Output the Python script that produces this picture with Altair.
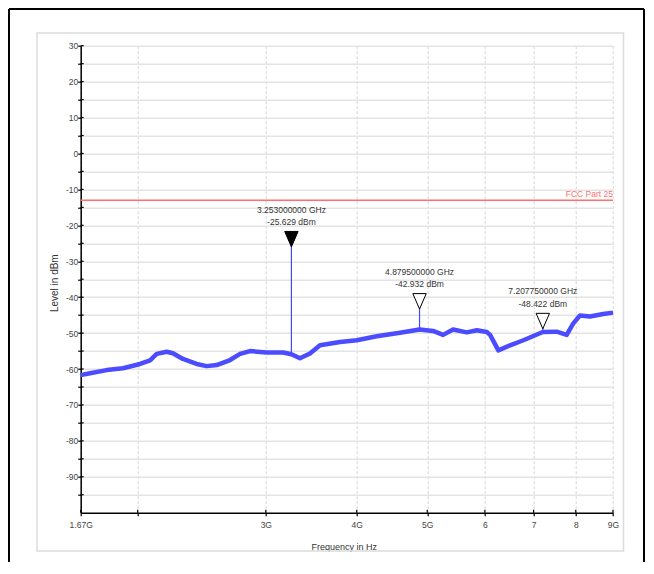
import altair as alt
import pandas as pd

# ---- data ----
freq_ghz = [1.67, 1.72, 1.813, 1.909, 2.015, 2.08, 2.124, 2.192, 2.236, 2.308,
            2.41, 2.488, 2.568, 2.679, 2.765, 2.854, 3.008, 3.17, 3.253, 3.342,
            3.45, 3.561, 3.794, 4.0, 4.262, 4.587, 4.8795, 5.093, 5.257, 5.426,
            5.667, 5.849, 6.037, 6.1, 6.262, 6.498, 6.778, 7.208, 7.531, 7.773,
            7.937, 8.107, 8.367, 8.727, 9.0]
level_dbm = [-61.7, -61.2, -60.3, -59.8, -58.6, -57.6, -55.8, -55.2, -55.6, -57.2,
             -58.6, -59.2, -58.9, -57.5, -55.8, -55.0, -55.4, -55.4, -55.9, -57.0,
             -55.7, -53.4, -52.5, -52.0, -50.9, -49.9, -49.0, -49.4, -50.5, -49.0,
             -49.8, -49.2, -49.7, -50.5, -54.8, -53.4, -52.0, -49.7, -49.6, -50.5,
             -47.3, -45.1, -45.4, -44.7, -44.3]

marker_freq = [3.253, 4.8795, 7.20775]
marker_level = [-25.629, -42.932, -48.422]
marker_base = [-55.9, -49.0, -49.7]
marker_freq_text = ["3.253000000 GHz", "4.879500000 GHz", "7.207750000 GHz"]
marker_level_text = ["-25.629 dBm", "-42.932 dBm", "-48.422 dBm"]
marker_active = [True, False, False]

limit_level = -13
limit_text = "FCC Part 25"

x_tick_values = [1.67, 2, 3, 4, 5, 6, 7, 8, 9]
x_tick_labels = ["1.67G", "", "3G", "4G", "5G", "6", "7", "8", "9G"]
y_tick_values = [-95, -90, -85, -80, -75, -70, -65, -60, -55, -50, -45, -40, -35,
                 -30, -25, -20, -15, -10, -5, 0, 5, 10, 15, 20, 25, 30]

# ---- layout ----
W, H = 532.3, 467
PAD = {"left": 72.7, "top": 37.7, "right": 33, "bottom": 49.3}
FONT = "Liberation Sans"

trace = pd.DataFrame({"f": freq_ghz, "db": level_dbm})
markers = pd.DataFrame({"f": marker_freq, "db": marker_level, "db2": marker_base,
                        "t1": marker_freq_text, "t2": marker_level_text,
                        "active": marker_active})
limit = pd.DataFrame({"f": [x_tick_values[0], x_tick_values[-1]],
                      "db": [limit_level, limit_level], "t": [limit_text, limit_text]})
xt = pd.DataFrame({"f": x_tick_values})
yt = pd.DataFrame({"db": y_tick_values})
one = pd.DataFrame({"k": [0]})

xscale = alt.Scale(type="log", domain=[1.67, 9], nice=False)
yscale = alt.Scale(domain=[-100, 30], nice=False)

x_label_expr = "".join(
    f"abs(datum.value - {v}) < 0.001 ? '{l}' : " for v, l in zip(x_tick_values, x_tick_labels)
) + "''"

xaxis = alt.Axis(values=x_tick_values, tickCount=50, labelExpr=x_label_expr, grid=True,
                 gridColor="#d6d6d6", gridDash=[3, 2], gridWidth=1,
                 tickSize=3, tickColor="black", tickWidth=1.2,
                 domainColor="black", domainWidth=1.5,
                 labelFont=FONT, labelFontSize=8.5, labelColor="#444", labelPadding=5,
                 labelFlush=False, labelOverlap=False,
                 title="Frequency in Hz", titleFont=FONT, titleFontSize=9,
                 titleFontWeight="normal", titleColor="#333",
                 titleX=263, titleY=34, titleBaseline="middle", titleAnchor="middle")
yaxis = alt.Axis(values=y_tick_values, tickCount=50,
                 labelExpr="datum.value % 10 == 0 ? '' + datum.value : ''",
                 grid=True, gridColor="#e4e4e4", gridWidth=1.5,
                 tickSize=3, tickColor="black", tickWidth=1.2,
                 domainColor="black", domainWidth=1.5,
                 labelFont=FONT, labelFontSize=8.5, labelColor="#444", labelPadding=0,
                 labelOverlap=False, labelFlush=False,
                 title="Level in dBm", titleFont=FONT, titleFontSize=10,
                 titleFontWeight="normal", titleColor="#333",
                 titleX=-26, titleY=237, titleAngle=-90, titleBaseline="middle",
                 titleAnchor="middle")

X = alt.X("f:Q", scale=xscale, axis=xaxis)
Y = alt.Y("db:Q", scale=yscale, axis=yaxis)
Xn = alt.X("f:Q", scale=xscale)
Yn = alt.Y("db:Q", scale=yscale)

# frames
RIGHT_EDGE = W + PAD["right"] - 2
BOTTOM_EDGE = H + PAD["bottom"]
outer_left = alt.Chart(one).mark_rule(color="black", strokeWidth=2).encode(
    x=alt.value(-71.7), y=alt.value(-36.7), y2=alt.value(BOTTOM_EDGE))
outer_top = alt.Chart(one).mark_rule(color="black", strokeWidth=2).encode(
    x=alt.value(-71.7), x2=alt.value(RIGHT_EDGE), y=alt.value(-36.7))
outer_right = alt.Chart(one).mark_rule(color="black", strokeWidth=2).encode(
    x=alt.value(RIGHT_EDGE), y=alt.value(-36.7), y2=alt.value(BOTTOM_EDGE))
inner_frame = alt.Chart(one).mark_rect(fillOpacity=0, stroke="#dcdcdc", strokeWidth=1.5).encode(
    x=alt.value(-43.7), x2=alt.value(542.8), y=alt.value(-12.7), y2=alt.value(505.3))

trace_line = alt.Chart(trace).mark_line(color="#4b4bff", strokeWidth=4.5,
                                        strokeJoin="round").encode(x=X, y=Y)

# inward halves of the crossing ticks
y_in_ticks = alt.Chart(yt).mark_rule(color="black", strokeWidth=1.2).encode(
    x=alt.value(0), x2=alt.value(3), y=Yn)
x_in_ticks = alt.Chart(xt).mark_rule(color="black", strokeWidth=1.2).encode(
    x=Xn, y=alt.value(H - 3), y2=alt.value(H))

limit_line = alt.Chart(limit).mark_line(color="#ff6f6f", strokeWidth=1.5).encode(x=Xn, y=Yn)
limit_label = alt.Chart(limit).transform_filter("datum.f > 5").mark_text(
    align="right", baseline="alphabetic", dy=-3, font=FONT, fontSize=8.5,
    color="#ff6f6f").encode(x=Xn, y=Yn, text="t:N")

stems = alt.Chart(markers).mark_rule(color="#4646ff", strokeWidth=1.2).encode(
    x=Xn, y=Yn, y2="db2:Q")

tri = "M-1,-2.1L1,-2.1L0,0.2Z"
marker_on = alt.Chart(markers).transform_filter("datum.active").mark_point(
    shape=tri, size=180, filled=True, fill="black", stroke="black", strokeWidth=1,
    opacity=1).encode(x=Xn, y=Yn)
marker_off = alt.Chart(markers).transform_filter("!datum.active").mark_point(
    shape=tri, size=180, filled=True, fill="white", stroke="black", strokeWidth=1,
    opacity=1).encode(x=Xn, y=Yn)

lab1 = alt.Chart(markers).mark_text(baseline="middle", dy=-36, font=FONT, fontSize=8.5,
                                    color="#333").encode(x=Xn, y=Yn, text="t1:N")
lab2 = alt.Chart(markers).mark_text(baseline="middle", dy=-23.5, font=FONT, fontSize=8.5,
                                    color="#333").encode(x=Xn, y=Yn, text="t2:N")

chart = alt.layer(
    trace_line, inner_frame, outer_left, outer_top, outer_right,
    y_in_ticks, x_in_ticks, limit_line, limit_label, stems,
    marker_on, marker_off, lab1, lab2,
).properties(
    width=W, height=H, padding=PAD, autosize=alt.AutoSizeParams(type="none"),
    background="white",
).configure_view(strokeWidth=0)

chart.save("out.html", embed_options={"renderer": "svg", "actions": False})
